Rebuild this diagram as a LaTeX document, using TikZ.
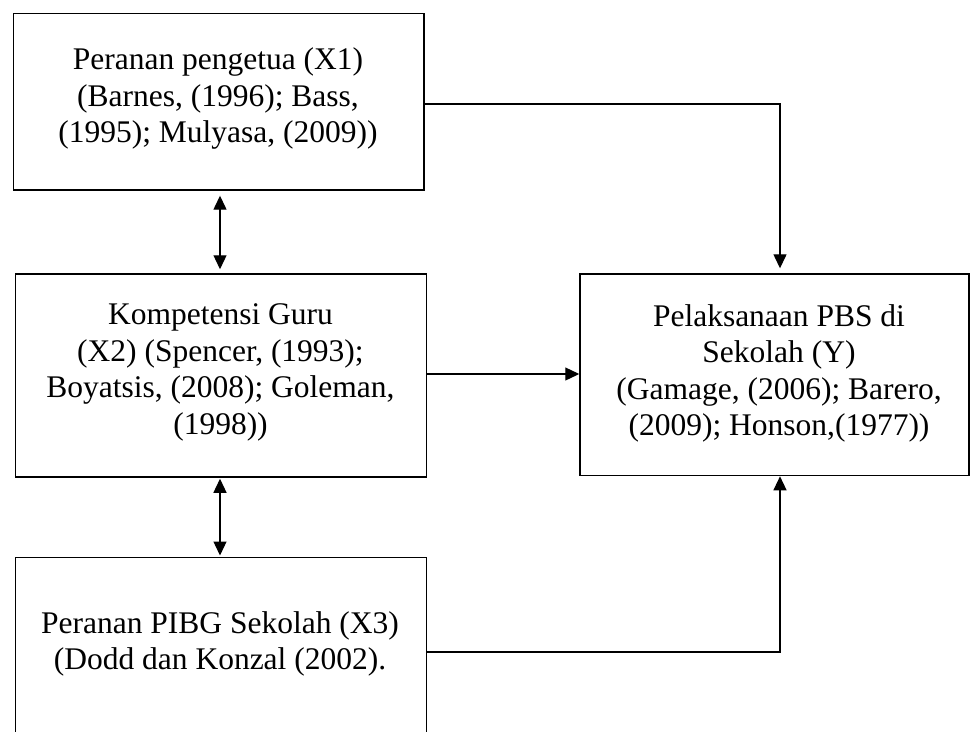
\documentclass[tikz,border=0pt]{standalone}
\usepackage{fontspec}
\setmainfont{Liberation Serif}
\usetikzlibrary{arrows.meta}
\begin{document}
\begin{tikzpicture}[x=1pt,y=-1pt,
  box/.style={draw,line width=1.5pt,inner sep=0pt},
  txt/.style={align=center,inner sep=0pt,font=\fontsize{31.5}{36.5}\selectfont},
  conn/.style={line width=1.3pt,-{Triangle[length=14pt,width=13pt]}},
  dconn/.style={line width=1.3pt,{Triangle[length=14pt,width=13pt]}-{Triangle[length=14pt,width=13pt]}}]
\useasboundingbox (0,0) rectangle (971,731);
\clip (0,0) rectangle (971,731);
% boxes
\node[box,minimum width=410.7pt,minimum height=176.7pt] (b1) at (218.7,101.6) {};
\node[box,minimum width=411pt,minimum height=203pt] (b2) at (221,375.5) {};
\node[box,minimum width=389pt,minimum height=201.5pt] (by) at (774.5,374.8) {};
\node[box,minimum width=411pt,minimum height=189.5pt] (b3) at (221,652) {};
% texts
\node[txt] (t1) at (218,98.5) {Peranan pengetua (X1)\\(Barnes, (1996); Bass,\\(1995); Mulyasa, (2009))};
\node[txt] (t2) at (220.5,372.5) {Kompetensi Guru\\(X2) (Spencer, (1993);\\Boyatsis, (2008); Goleman,\\(1998))};
\node[txt] (ty) at (779,373.5) {Pelaksanaan PBS di\\Sekolah (Y)\\(Gamage, (2006); Barero,\\(2009); Honson,(1977))};
\node[txt] (t3) at (220,644) {Peranan PIBG Sekolah (X3)\\(Dodd dan Konzal (2002).};
% connectors
\coordinate (ax) at (220,0);
\coordinate (ay) at (780,0);
\draw[conn,shorten >=5pt] (b1.east |- 0,104) -| (by.north -| ay);
\draw[conn] (b2.east |- 0,374) -- (by.west |- 0,374);
\draw[conn] (b3.east) -| (by.south -| ay);
\draw[dconn,shorten <=5pt,shorten >=4pt] (b1.south -| ax) -- (b2.north -| ax);
\draw[dconn,shorten <=1pt,shorten >=1pt] (b2.south -| ax) -- (b3.north -| ax);
\end{tikzpicture}
\end{document}
